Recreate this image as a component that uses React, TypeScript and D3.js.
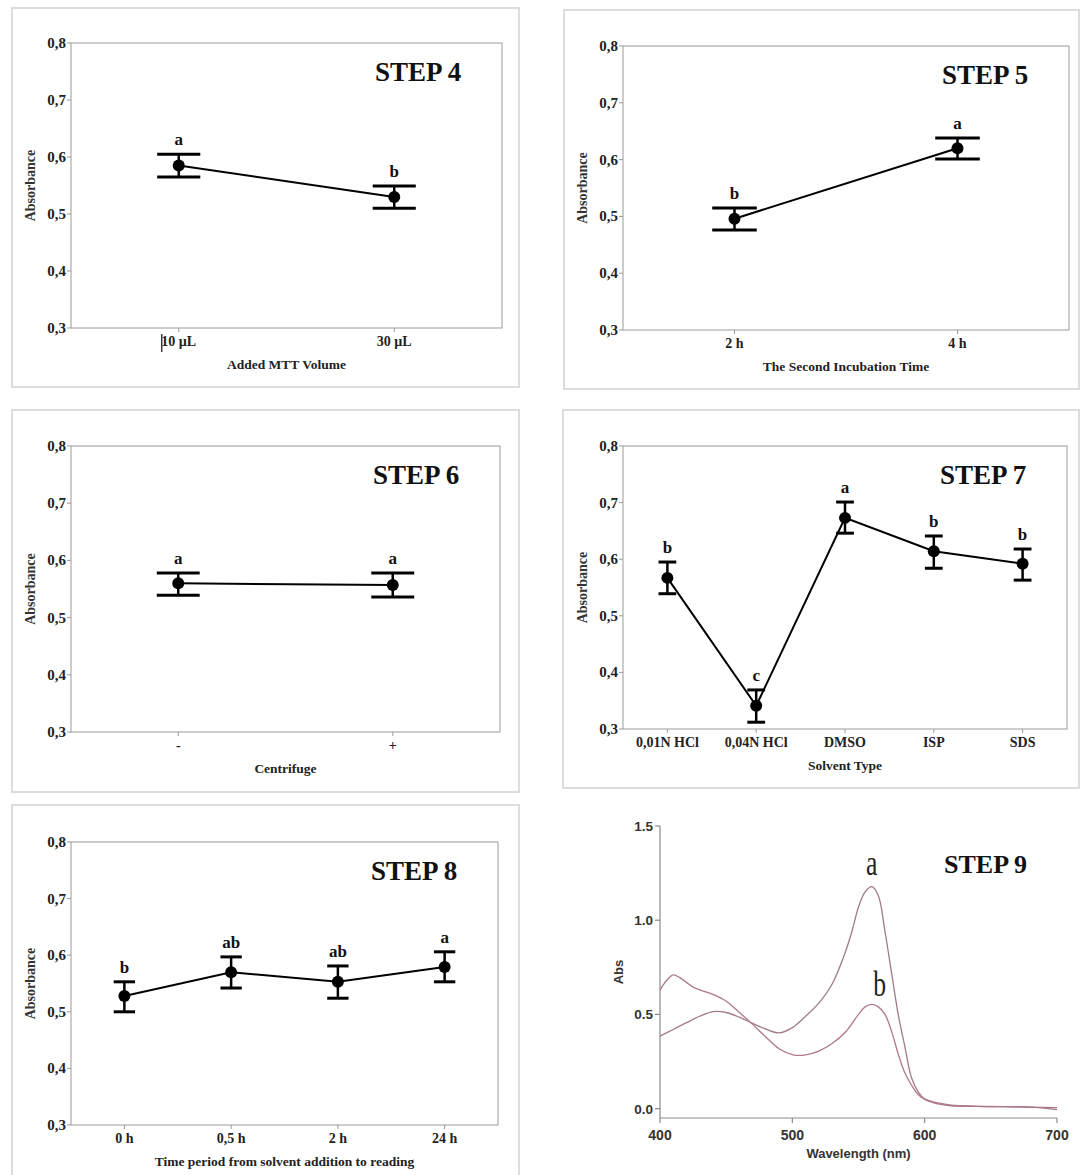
import React from "react";
import * as d3 from "d3";

// ---------- DATA ----------
const yTicks = [0.3, 0.4, 0.5, 0.6, 0.7, 0.8];

const step4Cats = ["10 µL", "30 µL"];
const step4Means = [0.585, 0.53];
const step4Upper = [0.605, 0.549];
const step4Lower = [0.565, 0.51];
const step4Letters = ["a", "b"];

const step5Cats = ["2 h", "4 h"];
const step5Means = [0.496, 0.62];
const step5Upper = [0.515, 0.638];
const step5Lower = [0.476, 0.601];
const step5Letters = ["b", "a"];

const step6Cats = ["-", "+"];
const step6Means = [0.56, 0.557];
const step6Upper = [0.578, 0.578];
const step6Lower = [0.539, 0.536];
const step6Letters = ["a", "a"];

const step7Cats = ["0,01N HCl", "0,04N HCl", "DMSO", "ISP", "SDS"];
const step7Means = [0.567, 0.341, 0.673, 0.614, 0.592];
const step7Upper = [0.595, 0.369, 0.701, 0.641, 0.618];
const step7Lower = [0.539, 0.312, 0.646, 0.584, 0.563];
const step7Letters = ["b", "c", "a", "b", "b"];

const step8Cats = ["0 h", "0,5 h", "2 h", "24 h"];
const step8Means = [0.528, 0.57, 0.553, 0.579];
const step8Upper = [0.553, 0.597, 0.581, 0.606];
const step8Lower = [0.5, 0.542, 0.524, 0.553];
const step8Letters = ["b", "ab", "ab", "a"];

const step9XTicks = [400, 500, 600, 700];
const step9YTicks = [0.0, 0.5, 1.0, 1.5];
const curveAWl = [400, 410, 420, 430, 440, 450, 460, 470, 480, 490, 500, 510, 520, 530, 540, 545, 550, 555, 560, 565, 570, 575, 580, 585, 590, 595, 600, 610, 620, 640, 660, 680, 700];
const curveAAbs = [0.385, 0.42, 0.456, 0.49, 0.515, 0.51, 0.485, 0.452, 0.422, 0.402, 0.43, 0.49, 0.56, 0.66, 0.83, 0.94, 1.07, 1.15, 1.178, 1.13, 0.94, 0.72, 0.5, 0.33, 0.165, 0.09, 0.05, 0.025, 0.015, 0.012, 0.01, 0.008, -0.005];
const curveBWl = [400, 405, 410, 415, 420, 425, 430, 440, 450, 460, 470, 480, 490, 500, 505, 510, 520, 530, 540, 550, 555, 560, 565, 570, 575, 580, 585, 590, 595, 600, 610, 620, 640, 660, 680, 700];
const curveBAbs = [0.63, 0.68, 0.71, 0.695, 0.67, 0.645, 0.63, 0.606, 0.57, 0.51, 0.447, 0.38, 0.318, 0.287, 0.282, 0.285, 0.305, 0.345, 0.405, 0.5, 0.54, 0.553, 0.54, 0.5, 0.41, 0.29, 0.19, 0.125, 0.075, 0.05, 0.03, 0.018, 0.012, 0.01, 0.008, 0.005];
const spectrumLabels = ["a", "b"];
const spectrumLabelWl = [560, 566];
const spectrumLabelAbs = [1.24, 0.6];

// ---------- LAYOUT ----------
const SERIF = "'Liberation Serif', 'Times New Roman', serif";
const SANS = "'Liberation Sans', Arial, sans-serif";

type Box = { x: number; y: number; w: number; h: number };
type PanelProps = {
  frame: Box;
  plot: Box;
  title: string;
  xLabel: string;
  cats: string[];
  means: number[];
  upper: number[];
  lower: number[];
  letters: string[];
  cursor?: boolean;
};

function Panel(p: PanelProps) {
  const { frame, plot } = p;
  const x = d3.scalePoint<string>().domain(p.cats).range([plot.x, plot.x + plot.w]).padding(0.5);
  const y = d3.scaleLinear().domain([0.3, 0.8]).range([plot.y + plot.h, plot.y]);
  const step = x.step();
  const capHalf = step * 0.1;
  const line = d3
    .line<number>()
    .x((_, i) => x(p.cats[i]) as number)
    .y((d) => y(d));
  const bottom = plot.y + plot.h;
  return (
    <g>
      <rect x={frame.x} y={frame.y} width={frame.w} height={frame.h} fill="none" stroke="#d2d2d2" strokeWidth={1.5} />
      <rect x={plot.x} y={plot.y} width={plot.w} height={plot.h} fill="none" stroke="#9a9a9a" strokeWidth={1} />
      {yTicks.map((t) => (
        <g key={t}>
          <line x1={plot.x - 4} x2={plot.x} y1={y(t)} y2={y(t)} stroke="#9a9a9a" />
          <text x={plot.x - 5} y={y(t) + 5} textAnchor="end" fontFamily={SERIF} fontWeight="bold" fontSize={15} fill="#222">
            {d3.format(".1f")(t).replace(".", ",")}
          </text>
        </g>
      ))}
      {p.cats.map((c) => (
        <g key={c}>
          <line x1={x(c)} x2={x(c)} y1={bottom} y2={bottom + 4} stroke="#9a9a9a" />
          <text x={x(c)} y={bottom + 18} textAnchor="middle" fontFamily={SERIF} fontWeight="bold" fontSize={14} fill="#222">
            {c}
          </text>
        </g>
      ))}
      {p.cursor && (
        <line x1={(x(p.cats[0]) as number) - 17} x2={(x(p.cats[0]) as number) - 17} y1={bottom + 6} y2={bottom + 24} stroke="#222" strokeWidth={1.3} />
      )}
      <text x={plot.x + plot.w / 2} y={bottom + 41} textAnchor="middle" fontFamily={SERIF} fontWeight="bold" fontSize={13.5} fill="#222">
        {p.xLabel}
      </text>
      <text
        transform={`translate(${plot.x - 36},${plot.y + plot.h / 2}) rotate(-90)`}
        textAnchor="middle"
        fontFamily={SERIF}
        fontWeight="bold"
        fontSize={14}
        fill="#333"
      >
        Absorbance
      </text>
      <text x={plot.x + plot.w - 127} y={plot.y + 38} fontFamily={SERIF} fontWeight="bold" fontSize={27} fill="#111">
        {p.title}
      </text>
      <path d={line(p.means) || ""} fill="none" stroke="#000" strokeWidth={2} />
      {p.cats.map((c, i) => {
        const cx = x(c) as number;
        return (
          <g key={"e" + c}>
            <line x1={cx} x2={cx} y1={y(p.upper[i])} y2={y(p.lower[i])} stroke="#000" strokeWidth={2.5} />
            <line x1={cx - capHalf} x2={cx + capHalf} y1={y(p.upper[i])} y2={y(p.upper[i])} stroke="#000" strokeWidth={3} />
            <line x1={cx - capHalf} x2={cx + capHalf} y1={y(p.lower[i])} y2={y(p.lower[i])} stroke="#000" strokeWidth={3} />
            <circle cx={cx} cy={y(p.means[i])} r={6} fill="#000" />
            <text x={cx} y={y(p.upper[i]) - 9} textAnchor="middle" fontFamily={SERIF} fontWeight="bold" fontSize={17} fill="#111">
              {p.letters[i]}
            </text>
          </g>
        );
      })}
    </g>
  );
}

function Spectrum() {
  const x = d3.scaleLinear().domain([400, 700]).range([660, 1057]);
  const y = d3.scaleLinear().domain([-0.05, 1.5]).range([1118, 826]);
  const mk = (wl: number[]) =>
    d3
      .line<number>()
      .x((_, i) => x(wl[i]))
      .y((d) => y(d))
      .curve(d3.curveCatmullRom.alpha(0.5));
  const axisColor = "#8a8a8a";
  return (
    <g>
      <line x1={x(400)} x2={x(400)} y1={y(1.5)} y2={y(-0.05)} stroke={axisColor} strokeWidth={1.2} />
      <line x1={x(400)} x2={x(700)} y1={y(-0.05)} y2={y(-0.05)} stroke={axisColor} strokeWidth={1.2} />
      {step9YTicks.map((t) => (
        <g key={t}>
          <line x1={x(400) - 5} x2={x(400)} y1={y(t)} y2={y(t)} stroke={axisColor} strokeWidth={1.2} />
          <text x={x(400) - 7} y={y(t) + 5} textAnchor="end" fontFamily={SANS} fontWeight="bold" fontSize={13.5} fill="#333">
            {d3.format(".1f")(t)}
          </text>
        </g>
      ))}
      {step9XTicks.map((t) => (
        <g key={t}>
          <line x1={x(t)} x2={x(t)} y1={y(-0.05)} y2={y(-0.05) + 5} stroke={axisColor} strokeWidth={1.2} />
          <text x={x(t)} y={y(-0.05) + 22} textAnchor="middle" fontFamily={SANS} fontWeight="bold" fontSize={14} fill="#333">
            {t}
          </text>
        </g>
      ))}
      <text x={(x(400) + x(700)) / 2} y={1158} textAnchor="middle" fontFamily={SANS} fontWeight="bold" fontSize={13} fill="#333">
        Wavelength (nm)
      </text>
      <text transform={`translate(623,972) rotate(-90)`} textAnchor="middle" fontFamily={SANS} fontWeight="bold" fontSize={13} fill="#333">
        Abs
      </text>
      <path d={mk(curveAWl)(curveAAbs) || ""} fill="none" stroke="#a07a8c" strokeWidth={1.3} />
      <path d={mk(curveBWl)(curveBAbs) || ""} fill="none" stroke="#b07888" strokeWidth={1.3} />
      {spectrumLabels.map((l, i) => (
        <text
          key={l}
          transform={`translate(${x(spectrumLabelWl[i])},${y(spectrumLabelAbs[i])}) scale(0.95,1.3)`}
          textAnchor="middle"
          fontFamily={SERIF}
          fontSize={27}
          fill="#222"
        >
          {l}
        </text>
      ))}
      <text x={944} y={873} fontFamily={SERIF} fontWeight="bold" fontSize={26} fill="#111">
        STEP 9
      </text>
    </g>
  );
}

export default function App() {
  return (
    <div style={{ position: "absolute", left: 0, top: 0 }}>
      <svg width={1092} height={1175} style={{ display: "block", background: "#fff" }}>
        <Panel
          frame={{ x: 12, y: 8, w: 507, h: 379 }}
          plot={{ x: 71, y: 43, w: 431, h: 285 }}
          title="STEP 4"
          xLabel="Added MTT Volume"
          cats={step4Cats}
          means={step4Means}
          upper={step4Upper}
          lower={step4Lower}
          letters={step4Letters}
          cursor
        />
        <Panel
          frame={{ x: 564, y: 10, w: 515, h: 379 }}
          plot={{ x: 623, y: 46, w: 446, h: 284 }}
          title="STEP 5"
          xLabel="The Second Incubation Time"
          cats={step5Cats}
          means={step5Means}
          upper={step5Upper}
          lower={step5Lower}
          letters={step5Letters}
        />
        <Panel
          frame={{ x: 12, y: 410, w: 507, h: 382 }}
          plot={{ x: 71, y: 446, w: 429, h: 286 }}
          title="STEP 6"
          xLabel="Centrifuge"
          cats={step6Cats}
          means={step6Means}
          upper={step6Upper}
          lower={step6Lower}
          letters={step6Letters}
        />
        <Panel
          frame={{ x: 563, y: 410, w: 516, h: 378 }}
          plot={{ x: 623, y: 446, w: 444, h: 283 }}
          title="STEP 7"
          xLabel="Solvent Type"
          cats={step7Cats}
          means={step7Means}
          upper={step7Upper}
          lower={step7Lower}
          letters={step7Letters}
        />
        <Panel
          frame={{ x: 12, y: 805, w: 507, h: 380 }}
          plot={{ x: 71, y: 842, w: 427, h: 283 }}
          title="STEP 8"
          xLabel="Time period from solvent addition to reading"
          cats={step8Cats}
          means={step8Means}
          upper={step8Upper}
          lower={step8Lower}
          letters={step8Letters}
        />
        <Spectrum />
      </svg>
    </div>
  );
}
